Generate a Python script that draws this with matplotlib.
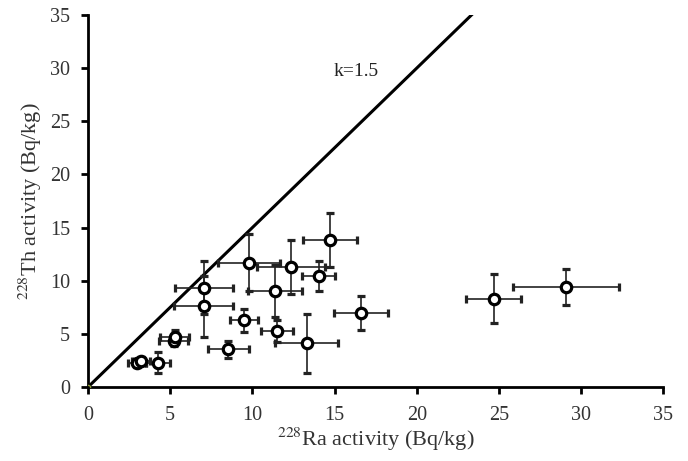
import matplotlib
matplotlib.use("Agg")
import matplotlib.pyplot as plt
import numpy as np

plt.rcParams['font.family'] = ['Liberation Serif', 'DejaVu Serif']
plt.rcParams['mathtext.fontset'] = 'stix'

ra = [2.97, 3.2, 4.25, 5.2, 5.26, 7.05, 7.05, 8.52, 9.49, 9.8, 11.38, 11.48, 12.34, 13.31, 14.04, 14.72, 16.59, 24.68, 29.07]
th = [2.22, 2.47, 2.3, 4.35, 4.72, 9.35, 7.6, 3.53, 6.3, 11.7, 9.03, 5.3, 11.28, 4.1, 10.44, 13.82, 6.97, 8.32, 9.41]
ra_err = [0.55, 0.55, 0.74, 0.88, 0.88, 1.77, 1.8, 1.25, 0.85, 1.87, 1.63, 0.98, 2.05, 1.92, 1.0, 1.66, 1.65, 1.68, 3.23]
th_err = [0.35, 0.4, 0.97, 0.5, 0.6, 2.5, 2.88, 0.8, 1.08, 2.65, 2.45, 1.05, 2.55, 2.74, 1.37, 2.53, 1.58, 2.31, 1.7]
k = 1.5
ticks = [0, 5, 10, 15, 20, 25, 30, 35]

fig = plt.figure(figsize=(6.88, 4.61), dpi=100)
ax = fig.add_axes([0.128, 0.1605, 0.836, 0.807])

kx = np.array([0, 35 / k])
ax.plot(kx, k * kx, color='black', lw=2.2, zorder=2)
ax.plot([0], [0], marker='o', ms=3, mfc='none', mec='#8a9a3a', zorder=5)
ax.text(16.3, 29.7, 'k=1.5', fontsize=14, ha='center', va='center', color='#222222')

ax.errorbar(ra, th, xerr=ra_err, yerr=th_err, fmt='o', ms=7.5, mfc='white',
            mec='black', mew=2.3, ecolor='#222222', elinewidth=1.2,
            capsize=3, capthick=1.2, zorder=3)

ax.set_xlim(0, 35)
ax.set_ylim(0, 35)
ax.set_xticks(ticks)
ax.set_yticks(ticks)
ax.tick_params(direction='out', length=5, width=2, labelsize=14.5, colors='black',
               labelcolor='#333333')
ax.tick_params(axis='x', pad=9)
ax.tick_params(axis='y', pad=8)
for s in ['top', 'right']:
    ax.spines[s].set_visible(False)
for s in ['left', 'bottom']:
    ax.spines[s].set_linewidth(2)

ax.set_xlabel(r'$^{228}$Ra activity (Bq/kg)', fontsize=16, color='#333333', labelpad=0)
ax.set_ylabel(r'$^{228}$Th activity (Bq/kg)', fontsize=16, color='#333333', labelpad=4)

fig.savefig('out.png', dpi=100)
